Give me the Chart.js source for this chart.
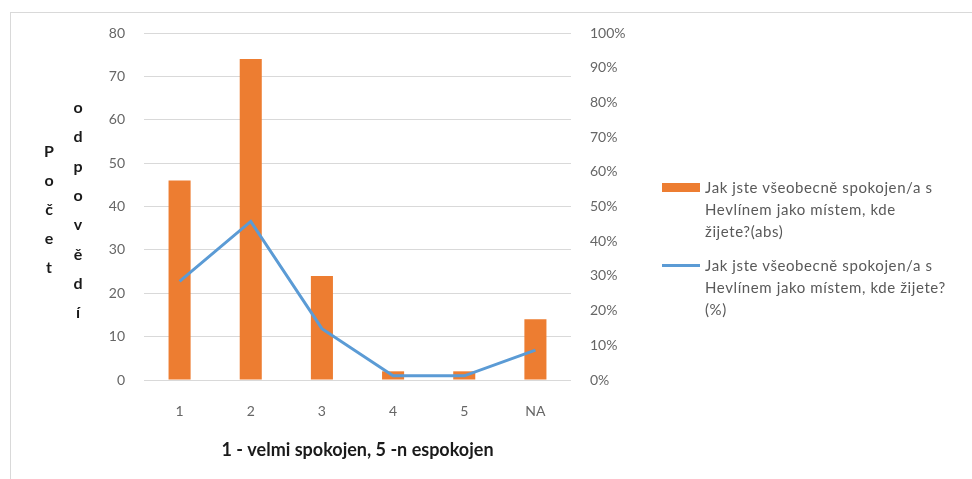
<!DOCTYPE html>
<html>
<head>
<meta charset="utf-8">
<script src="https://cdn.jsdelivr.net/npm/chart.js"></script>
<style>
    html, body { margin: 0; padding: 0; background: #fff; }
    #wrap { position: relative; width: 972px; height: 479px; overflow: hidden; font-family: Lato, "Open Sans", sans-serif; }
    #frame { position: absolute; left: 10px; top: 12px; width: 980px; height: 500px; border: 1px solid #d9d9d9; box-sizing: border-box; }
    #chart { position: absolute; left: 0; top: 0; }
    .legend-item { position: absolute; left: 662px; font-size: 15px; letter-spacing: 0.6px; line-height: 22px; color: #595959; }
    .legend-item .mark { position: absolute; left: 0; }
    .legend-item .txt { position: absolute; left: 43px; top: 0; white-space: nowrap; }
</style>
</head>
<body>
<div id="wrap">
    <div id="frame"></div>
    <canvas id="chart" width="972" height="479"></canvas>
    <div class="legend-item" style="top:176px;">
        <div class="mark" style="top:7px; width:38px; height:9px; background:#ED7D31;"></div>
        <div class="txt">Jak jste všeobecně spokojen/a s<br>Hevlínem jako místem, kde<br>žijete?(abs)</div>
    </div>
    <div class="legend-item" style="top:254px;">
        <div class="mark" style="top:10px; width:38px; height:3px; background:#5B9BD5;"></div>
        <div class="txt">Jak jste všeobecně spokojen/a s<br>Hevlínem jako místem, kde žijete?<br>(%)</div>
    </div>
</div>
<script>
// data
const categories = ['1', '2', '3', '4', '5', 'NA'];
const countValues = [46, 74, 24, 2, 2, 14];           // počet odpovědí (abs)
const percentValues = [28.4, 45.7, 14.8, 1.2, 1.2, 8.6]; // (%)

const xTitle = '1 - velmi spokojen, 5 -n espokojen';
const yTitleCol1 = 'Počet';
const yTitleCol2 = 'odpovědí';

const tickFont = { family: 'Lato', size: 14 };
const gray = '#666666';

// svisle skladane pismena nazvu osy Y (jako v Excelu)
const stackedTitle = {
    id: 'stackedTitle',
    afterDraw(chart) {
        const ctx = chart.ctx;
        ctx.save();
        ctx.font = 'bold 16px Lato';
        ctx.fillStyle = '#1a1a1a';
        ctx.textAlign = 'center';
        ctx.textBaseline = 'middle';
        [...yTitleCol1].forEach((ch, i) => ctx.fillText(ch, 49, 152 + i * 29));
        [...yTitleCol2].forEach((ch, i) => ctx.fillText(ch, 78, 108 + i * 29.3));
        ctx.restore();
    }
};

new Chart(document.getElementById('chart'), {
    type: 'bar',
    data: {
        labels: categories,
        datasets: [
            {
                type: 'line',
                label: 'Jak jste všeobecně spokojen/a s Hevlínem jako místem, kde žijete?(%)',
                data: percentValues,
                yAxisID: 'y1',
                borderColor: '#5B9BD5',
                borderWidth: 3,
                pointRadius: 0,
                tension: 0,
                order: 0
            },
            {
                label: 'Jak jste všeobecně spokojen/a s Hevlínem jako místem, kde žijete?(abs)',
                data: countValues,
                yAxisID: 'y',
                backgroundColor: '#ED7D31',
                barPercentage: 0.62,
                categoryPercentage: 0.5,
                order: 1
            }
        ]
    },
    options: {
        responsive: false,
        animation: false,
        layout: { padding: { top: 33, right: 321, bottom: 0, left: 0 } },
        plugins: {
            legend: { display: false },
            tooltip: { enabled: false }
        },
        scales: {
            x: {
                grid: { display: false, drawTicks: false },
                border: { display: false },
                ticks: { color: gray, font: tickFont, padding: 23 },
                title: {
                    display: true,
                    text: xTitle,
                    color: '#1a1a1a',
                    font: { family: 'Lato', size: 18, weight: 'bold' },
                    padding: { top: 0, bottom: 18 }
                },
                afterFit(s) { s.height = 99; }
            },
            y: {
                position: 'left',
                min: 0,
                max: 80,
                ticks: { stepSize: 10, color: gray, font: tickFont, padding: 19 },
                grid: { color: '#d9d9d9', drawTicks: false },
                border: { display: false },
                afterFit(s) { s.width = 144; }
            },
            y1: {
                position: 'right',
                min: 0,
                max: 100,
                ticks: { stepSize: 10, color: gray, font: tickFont, padding: 19, callback: v => v + '%' },
                grid: { display: false, drawTicks: false },
                border: { display: false },
                afterFit(s) { s.width = 80; }
            }
        }
    },
    plugins: [stackedTitle]
});
</script>
</body>
</html>
